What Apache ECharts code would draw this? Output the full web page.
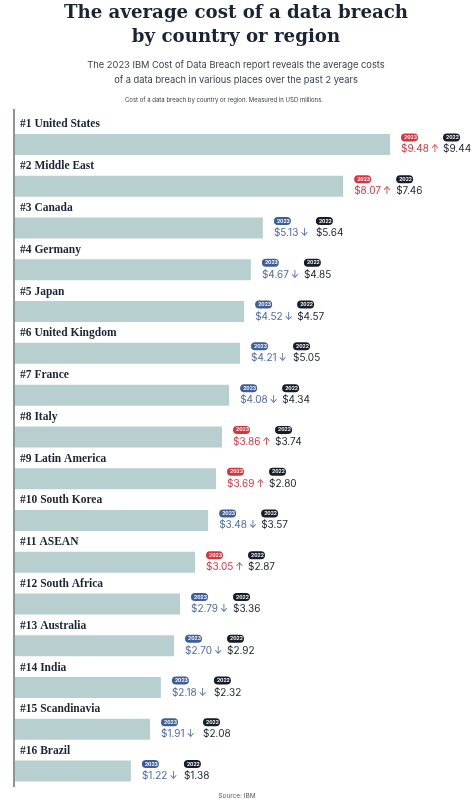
<!DOCTYPE html>
<html>
<head>
<meta charset="utf-8">
<script src="https://cdn.jsdelivr.net/npm/echarts@6/dist/echarts.min.js"></script>
<style>
html,body{margin:0;padding:0;background:#fff;}
#chart{width:474px;height:800px;}
</style>
</head>
<body>
<div id="chart"></div>
<script>
// Categories (rank + country/region)
const categories = ["#1 United States", "#2 Middle East", "#3 Canada", "#4 Germany", "#5 Japan",
  "#6 United Kingdom", "#7 France", "#8 Italy", "#9 Latin America", "#10 South Korea",
  "#11 ASEAN", "#12 South Africa", "#13 Australia", "#14 India", "#15 Scandinavia", "#16 Brazil"];
// Average cost of a data breach, USD millions
const cost2023 = [9.48, 8.07, 5.13, 4.67, 4.52, 4.21, 4.08, 3.86, 3.69, 3.48, 3.05, 2.79, 2.70, 2.18, 1.91, 1.22];
const cost2022 = [9.44, 7.46, 5.64, 4.85, 4.57, 5.05, 4.34, 3.74, 2.80, 3.57, 2.87, 3.36, 2.92, 2.32, 2.08, 1.38];
// Displayed bar length as drawn in the graphic (percent of the #1 bar)
const barLength = [100, 87.5, 66.1, 62.9, 61.1, 60.0, 57.1, 55.2, 53.6, 51.5, 48.0, 44.0, 42.4, 38.9, 36.0, 30.9];

const RED = '#d7343d', BLUE = '#3f5d98', BLUE_TXT = '#4d6aa3', DARK = '#161c28';

const chart = echarts.init(document.getElementById('chart'), null, {renderer: 'canvas'});

chart.setOption({
  animation: false,
  backgroundColor: '#ffffff',
  title: [
    {text: 'The average cost of a data breach\nby country or region', left: 236, top: 1, padding: 0,
     textAlign: 'center',
     textStyle: {fontFamily: 'DejaVu Serif', fontWeight: 'bold', fontSize: 18.2, lineHeight: 24, color: '#1b2434'}},
    {text: 'The 2023 IBM Cost of Data Breach report reveals the average costs\nof a data breach in various places over the past 2 years',
     left: 236, top: 57.5, padding: 0, textAlign: 'center',
     textStyle: {fontFamily: 'Inter', fontWeight: 'normal', fontSize: 9.3, lineHeight: 15, color: '#3b404b'}},
    {text: 'Cost of a data breach by country or region. Measured in USD millions.', left: 224, top: 97, padding: 0,
     textAlign: 'center',
     textStyle: {fontFamily: 'Inter', fontWeight: 'normal', fontSize: 6, color: '#3b404b'}},
    {text: 'Source: IBM', left: 237, top: 792.5, padding: 0, textAlign: 'center',
     textStyle: {fontFamily: 'Inter', fontWeight: 'normal', fontSize: 6.5, color: '#555b63'}}
  ],
  graphic: [
    {type: 'line', shape: {x1: 14, y1: 109, x2: 14, y2: 787}, style: {stroke: '#8e9597', lineWidth: 2}, z: 10}
  ],
  grid: {left: 15, right: 84, top: 123.6, bottom: 8, containLabel: false},
  xAxis: {type: 'value', min: 0, max: 100, show: false},
  yAxis: {type: 'category', data: categories, inverse: true, show: false},
  series: [
    {
      type: 'bar',
      data: barLength,
      barWidth: 21,
      itemStyle: {color: '#b7d0cf'},
      label: {
        show: true,
        position: 'right',
        distance: 11,
        align: 'left',
        verticalAlign: 'middle',
        formatter: function (p) {
          const i = p.dataIndex;
          const up = cost2023[i] > cost2022[i];
          const p23 = up ? 'pr' : 'pb';
          const v23 = up ? 'vr' : 'vb';
          const arrow = up ? '\u2191' : '\u2193';
          return '{' + p23 + '|2023}{sp|}{pd|2022}\n{' + v23 + '|$' + cost2023[i].toFixed(2) + '\u2009' + arrow + '}{vd|$' + cost2022[i].toFixed(2) + '}';
        },
        rich: {
          pr: {fontFamily: 'Inter', fontSize: 5, fontWeight: 'bold', color: '#fff', backgroundColor: RED, borderRadius: 4, padding: [1.5, 3], width: 11, lineHeight: 10},
          pb: {fontFamily: 'Inter', fontSize: 5, fontWeight: 'bold', color: '#fff', backgroundColor: BLUE, borderRadius: 4, padding: [1.5, 3], width: 11, lineHeight: 10},
          pd: {fontFamily: 'Inter', fontSize: 5, fontWeight: 'bold', color: '#fff', backgroundColor: DARK, borderRadius: 4, padding: [1.5, 3], width: 11, lineHeight: 10},
          sp: {width: 25, lineHeight: 10},
          vr: {fontFamily: 'Inter', fontSize: 10, color: RED, width: 42, lineHeight: 14},
          vb: {fontFamily: 'Inter', fontSize: 10, color: BLUE_TXT, width: 42, lineHeight: 14},
          vd: {fontFamily: 'Inter', fontSize: 10, color: '#1b2230', lineHeight: 14}
        }
      }
    },
    {
      type: 'bar',
      data: barLength,
      barWidth: 21,
      barGap: '-100%',
      itemStyle: {color: 'rgba(0,0,0,0)'},
      silent: true,
      label: {
        show: true,
        position: [5, -9.5],
        align: 'left',
        verticalAlign: 'middle',
        formatter: function (p) { return categories[p.dataIndex]; },
        fontFamily: 'Liberation Serif',
        fontWeight: 'bold',
        fontSize: 11.5,
        color: '#1b2434'
      }
    }
  ]
});
</script>
</body>
</html>
